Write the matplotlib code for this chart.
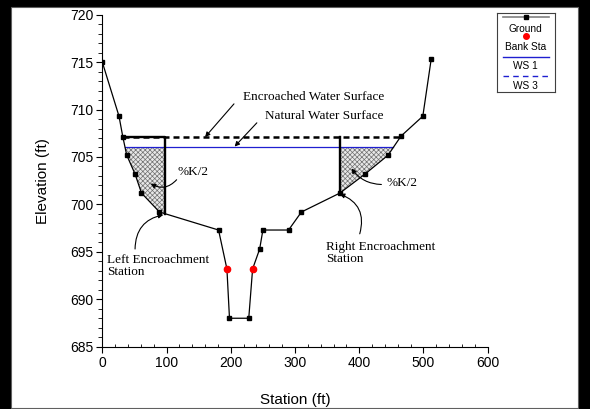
import matplotlib
matplotlib.use("Agg")
import matplotlib.pyplot as plt
from matplotlib.patches import Rectangle
from matplotlib.lines import Line2D
import numpy as np

plt.rcParams["font.family"] = ["Liberation Sans", "DejaVu Sans"]
plt.rcParams["hatch.linewidth"] = 0.5

# {{{ data
ground_sta = [0, 26, 32, 38, 51, 61, 89, 181, 194, 198, 228, 234, 245, 250,
              290, 310, 370, 409, 445, 465, 499, 512]
ground_elev = [715.0, 709.3, 707.1, 705.2, 703.2, 701.2, 699.2, 697.3, 693.2,
               688.0, 688.0, 693.2, 695.3, 697.3, 697.3, 699.2, 701.2, 703.2,
               705.2, 707.2, 709.3, 715.3]
bank_sta = [194, 234]
bank_elev = [693.2, 693.2]
ws1_sta = [35.5, 453]
ws1_elev = [706.0, 706.0]
ws3_sta = [32, 465]
ws3_elev = [707.1, 707.1]
left_encr = 98
right_encr = 370
# }}}

SERIF = ["Liberation Serif", "DejaVu Serif"]
ANN_SIZE = 9.5

fig = plt.figure(figsize=(5.9, 4.09), dpi=100, facecolor="black")
# white panel inside the black frame
fig.patches.append(Rectangle((11 / 590, 1 / 409), 567 / 590, 401 / 409,
                             transform=fig.transFigure, facecolor="white",
                             edgecolor="#606060", lw=0.8, zorder=-10))
ax = fig.add_axes([102.3 / 590, 1 - 346.7 / 409, 385.4 / 590, 332 / 409])
ax.set_facecolor("none")

gs = np.array(ground_sta, dtype=float)
ge = np.array(ground_elev, dtype=float)
l_ground = np.interp(left_encr, gs, ge)
r_ground = np.interp(right_encr, gs, ge)

# {{{ hatched conveyance areas
for x0, x1 in [(ws1_sta[0], left_encr), (right_encr, ws1_sta[1])]:
    inside = (gs > x0) & (gs < x1)
    xx = np.concatenate([[x0], gs[inside], [x1]])
    ax.fill_between(xx, np.interp(xx, gs, ge), ws1_elev[0],
                    facecolor="#e8e8e8", edgecolor="#707070",
                    hatch="xxxxxxx", lw=0, zorder=1)
# }}}

ax.plot(ws1_sta, ws1_elev, color="#1f1fd0", lw=0.9, zorder=2)
ax.plot(ws3_sta, ws3_elev, color="black", lw=1.8, dashes=(2.4, 1.6),
        zorder=3)
ax.plot([ws3_sta[0], left_encr, left_encr],
        [ws3_elev[0], ws3_elev[0], l_ground], color="black", lw=1.7, zorder=3)
ax.plot([right_encr, right_encr], [ws3_elev[0], r_ground], color="black",
        lw=1.7, zorder=3)
ax.plot(ground_sta, ground_elev, color="black", lw=0.9, marker="s", ms=2.6,
        zorder=4)
ax.plot(bank_sta, bank_elev, ls="none", marker="o", ms=4.5, color="red",
        mec="red", zorder=5)

# {{{ annotations
ax.text(329, 711.3, "Encroached Water Surface", family=SERIF, size=ANN_SIZE,
        ha="center", va="center")
ax.text(346, 709.3, "Natural Water Surface", family=SERIF, size=ANN_SIZE,
        ha="center", va="center")
ax.text(141, 703.4, "%K/2", family=SERIF, size=ANN_SIZE, ha="center",
        va="center")
ax.text(466, 702.3, "%K/2", family=SERIF, size=ANN_SIZE, ha="center",
        va="center")
ax.text(7.3, 693.5, "Left Encroachment\nStation", family=SERIF,
        size=ANN_SIZE, ha="left", va="center", linespacing=0.95)
ax.text(348, 694.9, "Right Encroachment\nStation", family=SERIF,
        size=ANN_SIZE, ha="left", va="center", linespacing=0.95)

arrows = [
    ((160, 707.1), (205, 710.6), "arc3,rad=0"),
    ((206, 706.1), (240.6, 708.6), "arc3,rad=0"),
    ((75.3, 702.2), (115.7, 702.6), "arc3,rad=-0.4"),
    ((388, 703.8), (434.5, 702.1), "arc3,rad=-0.25"),
    ((95, 698.9), (51, 695.3), "arc3,rad=-0.4"),
    ((369.6, 701.1), (400.8, 696.9), "arc3,rad=0.45"),
]
for tip, tail, conn in arrows:
    ax.annotate("", xy=tip, xytext=tail,
                arrowprops=dict(arrowstyle="-|>", color="black", lw=0.8,
                                mutation_scale=7, shrinkA=0, shrinkB=0,
                                connectionstyle=conn))
# }}}

ax.set_xlim(0, 600)
ax.set_ylim(685, 720)
ax.set_xticks(np.arange(0, 601, 100))
ax.set_xticks(np.arange(0, 601, 20), minor=True)
ax.set_yticks(np.arange(685, 721, 5))
ax.set_yticks(np.arange(685, 721, 1), minor=True)
for side in ["top", "right"]:
    ax.spines[side].set_visible(False)
ax.tick_params(axis="both", which="major", labelsize=10, length=4.5,
               width=0.8, direction="out", pad=2)
ax.tick_params(axis="y", which="minor", length=3, width=0.6,
               direction="out")
ax.tick_params(axis="x", which="minor", length=2.5, width=0.6,
               direction="in")
ax.set_xlabel("Station (ft)", fontsize=11, labelpad=17)
ax.set_ylabel("Elevation (ft)", fontsize=11, labelpad=14)

# {{{ legend drawn in its own small box, symbols above labels
lax = fig.add_axes([496.7 / 590, 1 - 91.7 / 409, 58.3 / 590, 79 / 409])
lax.set_xlim(0, 1)
lax.set_ylim(1, 0)
lax.set_xticks([])
lax.set_yticks([])
for sp in lax.spines.values():
    sp.set_linewidth(0.8)
    sp.set_color("#404040")
lax.add_line(Line2D([0.1, 0.9], [0.058, 0.058], color="#808080", lw=1.2))
lax.plot([0.5], [0.058], marker="s", ms=3, color="black")
lax.plot([0.5], [0.30], marker="o", ms=4, color="red")
lax.add_line(Line2D([0.1, 0.9], [0.557, 0.557], color="#1f1fd0", lw=1.0))
lax.add_line(Line2D([0.1, 0.9], [0.797, 0.797], color="#1f1fd0", lw=1.0,
                    dashes=(4, 3)))
for y, label in [(0.21, "Ground"), (0.43, "Bank Sta"), (0.675, "WS 1"),
                 (0.928, "WS 3")]:
    lax.text(0.5, y, label, ha="center", va="center", fontsize=7.3)
# }}}

fig.savefig("out.png", dpi=100, facecolor=fig.get_facecolor())
